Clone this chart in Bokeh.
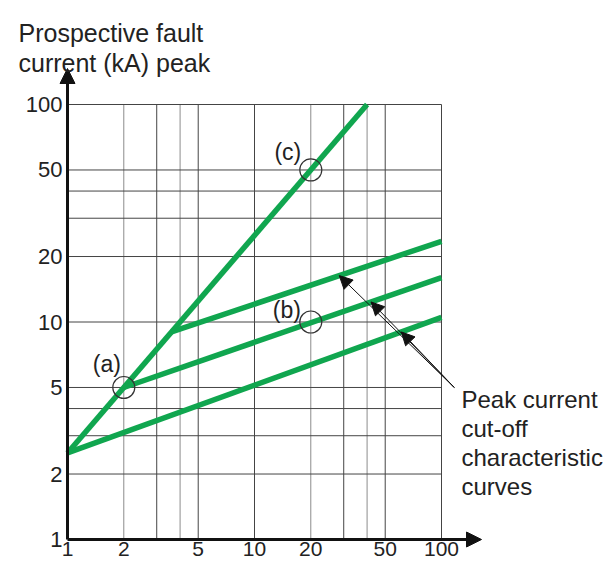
import numpy as np
from bokeh.plotting import figure
from bokeh.models import FixedTicker, Arrow, NormalHead, Label
from bokeh.embed import file_html
from bokeh.resources import INLINE
from bokeh.core.properties import value

# ---------------- data ----------------
x_ticks = [1, 2, 5, 10, 20, 50, 100]
x_tick_labels = ["1", "2", "5", "10", "20", "50", "100"]
y_ticks = [1, 2, 5, 10, 20, 50, 100]
y_tick_labels = ["1", "2", "5", "10", "20", "50", "100"]
x_grid_dark = [3, 5, 10, 30, 50, 100]
x_grid_light = [2, 4, 20, 40]
y_grid = [2, 3, 4, 5, 10, 20, 30, 40, 50, 100]

# steep line (no limitation)
curve_c_x = [1, 40]
curve_c_y = [2.5, 100]
# cut-off characteristic curves
curve_1_x = [1, 100]
curve_1_y = [2.5, 10.5]
curve_2_x = [2, 100]
curve_2_y = [5, 16]
curve_3_x = [3.6, 100]
curve_3_y = [9, 23.5]

points_x = [2, 20, 20]
points_y = [5, 10, 50]
point_labels = ["(a)", "(b)", "(c)"]

# where the annotation arrows touch the curves (x values)
pointer_x = [28.4, 42.0, 61.0]
pointer_tail_x = 117
pointer_tail_y = 5.0

y_title_lines = ["Prospective fault", "current (kA) peak"]
note_lines = ["Peak current", "cut-off", "characteristic", "curves"]

# ---------------- style / geometry ----------------
GREEN = "#10a64f"
INK = "#111111"
TXT = "#222222"
FONT = "Liberation Sans"
W, H = 606, 565
X0, X1, Y0, Y1 = 1, 100, 1, 100
# pixel position of the 1..100 box inside the canvas
BOX_L, BOX_R, BOX_T, BOX_B = 67, 441, 104, 539

xdec = (BOX_R - BOX_L) / (np.log10(X1) - np.log10(X0))
ydec = (BOX_B - BOX_T) / (np.log10(Y1) - np.log10(Y0))


def px2x(px):
    return 10 ** (np.log10(X0) + (px - BOX_L) / xdec)


def py2y(py):
    return 10 ** (np.log10(Y0) + (BOX_B - py) / ydec)


p = figure(width=W, height=H, x_axis_type="log", y_axis_type="log",
           x_range=(px2x(0), px2x(W)), y_range=(py2y(H), py2y(0)),
           output_backend="svg", toolbar_location=None, min_border=0)
p.outline_line_color = None
p.background_fill_color = "white"
p.xgrid.visible = False
p.ygrid.visible = False

p.xaxis.fixed_location = Y0
p.yaxis.fixed_location = X0
for ax, ticks, labels in ((p.xaxis, x_ticks, x_tick_labels), (p.yaxis, y_ticks, y_tick_labels)):
    ax.ticker = FixedTicker(ticks=ticks)
    ax.major_label_overrides = {t: l for t, l in zip(ticks, labels)}
    ax.major_tick_line_color = None
    ax.minor_tick_line_color = None
    ax.major_tick_out = 0
    ax.major_tick_in = 0
    ax.axis_line_color = None
    ax.major_label_text_font = FONT
    ax.major_label_text_color = TXT
p.xaxis.major_label_text_font_size = "21px"
p.yaxis.major_label_text_font_size = "22px"
p.xaxis.major_label_standoff = 2
p.yaxis.major_label_standoff = 5

# grid lines bounded to the 1..100 box
p.segment(x0=x_grid_dark, x1=x_grid_dark, y0=[Y0] * len(x_grid_dark), y1=[Y1] * len(x_grid_dark),
          line_color="#444444", line_width=1)
p.segment(x0=x_grid_light, x1=x_grid_light, y0=[Y0] * len(x_grid_light), y1=[Y1] * len(x_grid_light),
          line_color="#8c8c8c", line_width=1)
p.segment(x0=[X0] * len(y_grid), x1=[X1] * len(y_grid), y0=y_grid, y1=y_grid,
          line_color="#444444", line_width=1)

# curves (clipped to the 1..100 box)
for cx, cy in ((curve_c_x, curve_c_y), (curve_1_x, curve_1_y),
               (curve_2_x, curve_2_y), (curve_3_x, curve_3_y)):
    p.line(cx, cy, line_color=GREEN, line_width=5.5)

# circles + labels
p.scatter(points_x, points_y, marker="circle", size=22, fill_color=None,
          line_color="#333333", line_width=1.2)
label_dx = [-17, -24, -23]
label_dy = [-23, -12, -18]
p.text(x=points_x, y=points_y, text=point_labels, x_offset=label_dx, y_offset=label_dy,
       text_font=value(FONT), text_font_size="23px", text_color=TXT,
       text_align="center", text_baseline="middle")


def on_curve(cx, cy, x):
    return float(10 ** np.interp(np.log10(x), np.log10(cx), np.log10(cy)))


curves_for_pointer = [(curve_3_x, curve_3_y), (curve_2_x, curve_2_y), (curve_1_x, curve_1_y)]
for (cx, cy), px in zip(curves_for_pointer, pointer_x):
    p.add_layout(Arrow(end=NormalHead(size=13, fill_color=INK, line_color=INK, line_width=1),
                       x_start=pointer_tail_x, y_start=pointer_tail_y,
                       x_end=px, y_end=on_curve(cx, cy, px),
                       line_color=INK, line_width=1))

# axis lines with arrow heads
p.add_layout(Arrow(end=NormalHead(size=15, fill_color=INK, line_color=INK, line_width=1),
                   x_start=X0, y_start=Y0, x_end=X0, y_end=py2y(68),
                   line_color=INK, line_width=3))
p.add_layout(Arrow(end=NormalHead(size=15, fill_color=INK, line_color=INK, line_width=1),
                   x_start=X0, y_start=Y0, x_end=px2x(481), y_end=Y0,
                   line_color=INK, line_width=3))

# y-axis title (horizontal, above the axis)
for i, t in enumerate(y_title_lines):
    p.add_layout(Label(x=px2x(18), y=py2y(32 + 30 * i), text=t, text_font=FONT,
                       text_font_size="25px", text_color=TXT,
                       text_align="left", text_baseline="alphabetic"))

# note text
for i, t in enumerate(note_lines):
    p.add_layout(Label(x=px2x(461), y=py2y(399 + 29 * i), text=t, text_font=FONT,
                       text_font_size="24px", text_color=TXT,
                       text_align="left", text_baseline="alphabetic"))

open("out.html", "w").write(file_html(p, INLINE))
